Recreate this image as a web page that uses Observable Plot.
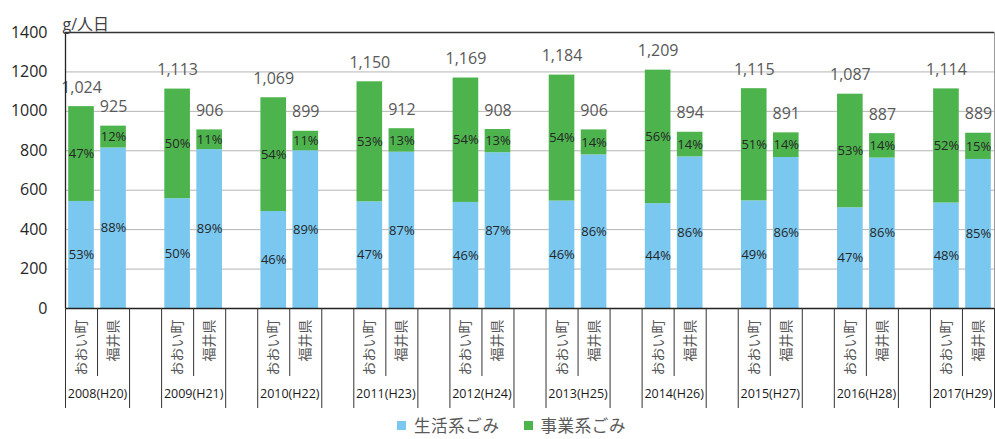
<!DOCTYPE html>
<html>
<head>
<meta charset="utf-8">
<script src="https://cdn.jsdelivr.net/npm/d3@7"></script>
<script src="https://cdn.jsdelivr.net/npm/@observablehq/plot@0.6"></script>
<style>
  html, body { margin: 0; padding: 0; background: #fff; }
  body { width: 995px; font-family: 'Open Sans', 'Noto Sans CJK JP', sans-serif; }
  #legend { height: 24px; display: flex; align-items: center; padding-left: 397px; padding-top: 1px;
            font-family: 'Noto Sans CJK JP', sans-serif; font-size: 16.5px; line-height: 20px; color: #595959; }
  .sw { width: 9px; height: 9px; display: inline-block; margin-right: 8px; }
  .item { display: flex; align-items: center; margin-right: 24px; line-height: 20px; letter-spacing: 0.6px; }
</style>
</head>
<body>
<div id="chart"></div>
<div id="legend"></div>
<script>
// ---- data ----
const years = ["2008(H20)", "2009(H21)", "2010(H22)", "2011(H23)", "2012(H24)",
               "2013(H25)", "2014(H26)", "2015(H27)", "2016(H28)", "2017(H29)"];
const regions = ["おおい町", "福井県"];
const seriesNames = ["生活系ごみ", "事業系ごみ"];
const ooiTotal   = [1024, 1113, 1069, 1150, 1169, 1184, 1209, 1115, 1087, 1114];
const fukuiTotal = [925, 906, 899, 912, 908, 906, 894, 891, 887, 889];
const ooiLife    = [543, 557, 492, 541, 538, 545, 532, 546, 511, 535];
const fukuiLife  = [814, 806, 800, 793, 790, 779, 769, 766, 763, 756];
const ooiLifePct   = [53, 50, 46, 47, 46, 46, 44, 49, 47, 48];
const ooiBizPct    = [47, 50, 54, 53, 54, 54, 56, 51, 53, 52];
const fukuiLifePct = [88, 89, 89, 87, 87, 86, 86, 86, 86, 85];
const fukuiBizPct  = [12, 11, 11, 13, 13, 14, 14, 14, 14, 15];
const yTicks = [0, 200, 400, 600, 800, 1000, 1200, 1400];
const unitLabel = "g/人日";

const colors = {life: "#7AC8F0", biz: "#4DB44D"};

// ---- table ----
const rows = [];
years.forEach((yr, k) => {
  rows.push({slot: 3 * k, region: regions[0], total: ooiTotal[k], life: ooiLife[k], lifePct: ooiLifePct[k], bizPct: ooiBizPct[k]});
  rows.push({slot: 3 * k + 1, region: regions[1], total: fukuiTotal[k], life: fukuiLife[k], lifePct: fukuiLifePct[k], bizPct: fukuiBizPct[k]});
});
const nSlots = years.length * 3 - 1;
const yearRows = years.map((y, k) => ({x: 3 * k + 1, label: y}));
const shortTicks = years.map((y, k) => 3 * k + 1);
const fullTicks = [];
years.forEach((y, k) => { fullTicks.push(3 * k, 3 * k + 2); });
fullTicks.push(nSlots);

const fmt = d3.format(",");

const chart = Plot.plot({
  width: 995,
  height: 412,
  marginLeft: 65,
  marginRight: 1,
  marginTop: 32,
  marginBottom: 104,
  style: {fontFamily: "'Open Sans', 'Noto Sans CJK JP', sans-serif", background: "#fff"},
  x: {type: "linear", domain: [0, nSlots]},
  y: {domain: [0, 1400]},
  marks: [
    Plot.ruleY(yTicks.slice(1, -1), {stroke: "#b4b4b4", strokeWidth: 1}),
    Plot.rectY(rows, {x1: d => d.slot + 0.1, x2: d => d.slot + 0.9, y1: 0, y2: "life", fill: colors.life}),
    Plot.rectY(rows, {x1: d => d.slot + 0.1, x2: d => d.slot + 0.9, y1: "life", y2: "total", fill: colors.biz}),
    Plot.text(rows, {x: d => d.slot + 0.5, y: d => d.life / 2, text: d => d.lifePct + "%", fontSize: 13, fill: "#262626"}),
    Plot.text(rows, {x: d => d.slot + 0.5, y: d => (d.life + d.total) / 2, text: d => d.bizPct + "%", fontSize: 13, fill: "#262626"}),
    Plot.text(rows, {x: d => d.slot + 0.5, y: "total", dy: -19, text: d => fmt(d.total), fontSize: 16, fill: "#595959"}),
    Plot.ruleX([nSlots], {stroke: "#9a9a9a"}),
    Plot.ruleY([1400], {stroke: "#333", strokeWidth: 1.5}),
    Plot.ruleY([0], {stroke: "#222", strokeWidth: 1.3}),
    Plot.ruleX([0], {stroke: "#222", strokeWidth: 1.3}),
    Plot.axisY(yTicks, {tickSize: 0, tickPadding: 18, tickFormat: d => String(d), fontSize: 16, fill: "#262626", label: null}),
    Plot.text([unitLabel], {frameAnchor: "top-left", textAnchor: "start", dx: -3, dy: -14, fontSize: 16, fill: "#404040"}),
    Plot.axisX(fullTicks, {tickSize: 100, tickFormat: () => "", stroke: "#333", label: null}),
    Plot.axisX(shortTicks, {tickSize: 68, tickFormat: () => "", stroke: "#333", label: null}),
    Plot.text(rows, {x: d => d.slot + 0.5, text: "region", frameAnchor: "bottom", lineAnchor: "middle", dy: 11,
                     rotate: -90, textAnchor: "end", fontSize: 14, fill: "#595959",
                     fontFamily: "'Noto Sans CJK JP', sans-serif"}),
    Plot.text(yearRows, {x: "x", text: "label", frameAnchor: "bottom", lineAnchor: "middle", dy: 85, fontSize: 12.5, fill: "#1a1a1a"})
  ]
});
document.getElementById("chart").appendChild(chart);

// ---- legend ----
const legend = document.getElementById("legend");
[colors.life, colors.biz].forEach((c, i) => {
  const item = document.createElement("span");
  item.className = "item";
  const sw = document.createElement("span");
  sw.className = "sw";
  sw.style.background = c;
  item.appendChild(sw);
  item.appendChild(document.createTextNode(seriesNames[i]));
  legend.appendChild(item);
});
</script>
</body>
</html>
